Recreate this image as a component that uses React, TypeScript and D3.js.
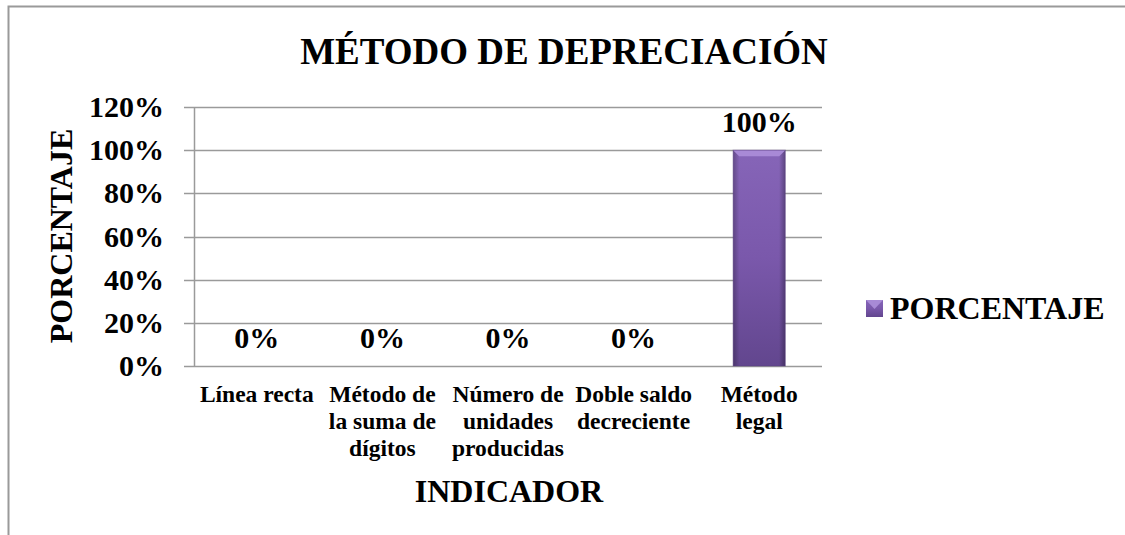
import React from 'react';
import * as d3 from 'd3';

const categories = [
  ['Línea recta'],
  ['Método de', 'la suma de', 'dígitos'],
  ['Número de', 'unidades', 'producidas'],
  ['Doble saldo', 'decreciente'],
  ['Método', 'legal'],
];
const values = [0, 0, 0, 0, 1];
const yTicks = [0, 0.2, 0.4, 0.6, 0.8, 1.0, 1.2];
const seriesName = 'PORCENTAJE';

const W = 1125, H = 535;
const font = '"Liberation Serif", "Times New Roman", serif';

export default function App() {
  const left = 194, right = 822, top = 107, bottom = 366;

  const x = d3.scaleBand<number>()
    .domain(d3.range(categories.length))
    .range([left, right])
    .paddingInner(0.585)
    .paddingOuter(0.2925);
  const y = d3.scaleLinear().domain([0, 1.2]).range([bottom, top]);
  const bw = x.bandwidth();
  const bev = 6;

  return (
    <svg width={W} height={H} style={{ position: 'absolute', left: 0, top: 0, fontFamily: font }}>
      <defs>
        <linearGradient id="barFill" x1="0" y1="0" x2="0" y2="1">
          <stop offset="0" stopColor="#8665b8" />
          <stop offset="0.5" stopColor="#7a58ab" />
          <stop offset="1" stopColor="#62468e" />
        </linearGradient>
        <linearGradient id="barSide" x1="0" y1="0" x2="1" y2="0">
          <stop offset="0" stopColor="#000" stopOpacity="0.25" />
          <stop offset="0.12" stopColor="#000" stopOpacity="0" />
          <stop offset="0.88" stopColor="#000" stopOpacity="0" />
          <stop offset="1" stopColor="#000" stopOpacity="0.3" />
        </linearGradient>
      </defs>
      <rect x={0} y={0} width={W} height={H} fill="#fff" />
      {/* frame */}
      <path d={`M8.5,${H} V6.5 H${W}`} fill="none" stroke="#9a9a9a" strokeWidth={2} />

      <text x={564} y={64} textAnchor="middle" fontSize={37} fontWeight="bold">MÉTODO DE DEPRECIACIÓN</text>

      {/* gridlines + y ticks */}
      {yTicks.map(t => (
        <g key={t}>
          <line x1={left - 10} x2={right} y1={Math.round(y(t)) + 0.5} y2={Math.round(y(t)) + 0.5} stroke="#9a9a9a" strokeWidth={1.5} />
          <text x={164} y={y(t) + 10} textAnchor="end" fontSize={30} fontWeight="bold">{d3.format('.0%')(t)}</text>
        </g>
      ))}
      <line x1={left + 0.5} x2={left + 0.5} y1={top} y2={bottom} stroke="#9a9a9a" strokeWidth={1.5} />

      {/* bars */}
      {values.map((v, i) => {
        const bx = x(i)!;
        const by = y(v);
        const bh = bottom - by;
        return (
          <g key={i}>
            {bh > 0 && (
              <g>
                <rect x={bx} y={by} width={bw} height={bh} fill="url(#barFill)" />
                <rect x={bx} y={by} width={bw} height={bh} fill="url(#barSide)" />
                <polygon points={`${bx},${by} ${bx + bw},${by} ${bx + bw - bev},${by + bev} ${bx + bev},${by + bev}`} fill="#a88ad6" />
                <rect x={bx} y={by} width={bw} height={bh} fill="none" stroke="#5a3f82" strokeOpacity={0.5} />
              </g>
            )}
            <text x={bx + bw / 2} y={by - 18} textAnchor="middle" fontSize={30} fontWeight="bold">{d3.format('.0%')(v)}</text>
          </g>
        );
      })}

      {/* category labels */}
      {categories.map((lines, i) => (
        <text key={i} x={x(i)! + bw / 2} y={402} textAnchor="middle" fontSize={23.5} fontWeight="bold">
          {lines.map((l, j) => (
            <tspan key={j} x={x(i)! + bw / 2} dy={j === 0 ? 0 : 27}>{l}</tspan>
          ))}
        </text>
      ))}

      <text x={509} y={502} textAnchor="middle" fontSize={32} fontWeight="bold">INDICADOR</text>
      <text transform={`translate(72,236) rotate(-90)`} textAnchor="middle" fontSize={32} fontWeight="bold">PORCENTAJE</text>

      {/* legend */}
      <g>
        <rect x={866} y={300} width={17} height={17} fill="url(#barFill)" />
        <polygon points="866,300 883,300 874.5,309" fill="#a88ad6" />
        <text x={890} y={319} fontSize={32} fontWeight="bold">{seriesName}</text>
      </g>
    </svg>
  );
}
